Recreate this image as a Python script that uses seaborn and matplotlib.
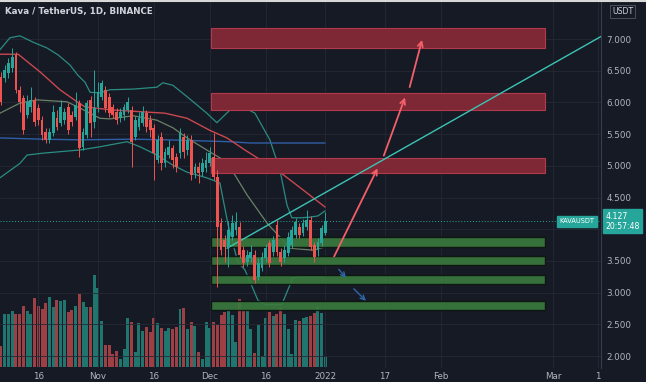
import matplotlib
matplotlib.use("Agg")
import matplotlib.pyplot as plt
from matplotlib.patches import Rectangle
from matplotlib.lines import Line2D
import seaborn as sns

# day numbers counted from Oct 1 2021 (bar 1 = Oct 6, last bar = Jan 1)
days = list(range(5, 93))
opens = [6.40, 6.38, 6.46, 6.54, 6.75, 6.20, 6.07, 5.80, 5.93, 6.04,
         5.91, 5.72, 5.53, 5.41, 5.52, 5.75, 5.68, 5.72, 5.93, 5.80,
         5.77, 5.99, 5.30, 5.49, 6.04, 5.69, 5.93, 6.09, 6.20, 6.09,
         5.93, 5.85, 5.75, 5.80, 5.88, 5.88, 5.45, 5.61, 5.68, 5.83,
         5.72, 5.60, 5.09, 5.45, 5.04, 5.17, 5.28, 5.14, 5.20, 5.45,
         5.25, 5.41, 4.89, 4.98, 4.90, 4.97, 5.04, 5.14, 4.82, 4.10,
         3.83, 3.72, 3.88, 3.99, 4.03, 3.67, 3.48, 3.55, 3.59, 3.25,
         3.39, 3.55, 3.78, 3.64, 4.07, 3.64, 3.55, 3.62, 3.75, 3.91,
         4.03, 3.94, 4.03, 4.15, 3.75, 3.67, 3.78, 3.94]
closes = [6.01, 6.51, 6.62, 6.72, 6.20, 6.01, 5.56, 6.01, 6.04, 5.69,
          5.72, 5.49, 5.41, 5.53, 5.85, 5.61, 5.93, 5.85, 5.56, 5.69,
          5.96, 5.28, 5.53, 5.99, 5.68, 5.91, 6.16, 6.31, 5.91, 5.83,
          5.80, 5.72, 5.85, 5.93, 6.01, 5.38, 5.72, 5.75, 5.85, 5.61,
          5.56, 5.20, 5.41, 5.04, 5.22, 5.30, 5.09, 4.98, 5.52, 5.22,
          5.41, 4.85, 4.98, 4.89, 5.04, 5.09, 5.20, 4.82, 4.03, 3.67,
          3.72, 3.99, 4.10, 4.11, 3.59, 3.47, 3.59, 3.64, 3.20, 3.47,
          3.56, 3.70, 3.47, 3.83, 3.64, 3.48, 3.67, 3.88, 3.99, 4.11,
          3.91, 4.10, 4.15, 3.72, 3.56, 3.80, 4.02, 4.127]
highs = [6.48, 6.59, 6.70, 6.86, 6.79, 6.26, 6.12, 6.12, 6.24, 6.09,
         5.97, 5.79, 5.60, 5.60, 5.96, 5.88, 6.04, 5.91, 5.99, 5.86,
         6.16, 6.04, 5.60, 6.04, 6.10, 6.51, 6.32, 6.35, 6.26, 6.15,
         5.97, 5.91, 5.91, 5.97, 6.09, 5.94, 5.79, 5.85, 5.94, 5.88,
         5.80, 5.66, 5.49, 5.53, 5.28, 5.41, 5.33, 5.20, 5.60, 5.52,
         5.49, 5.49, 5.04, 5.06, 5.12, 5.22, 5.30, 5.52, 4.93, 4.18,
         3.91, 4.11, 4.22, 4.27, 4.11, 3.74, 3.67, 3.75, 3.67, 3.55,
         3.64, 3.77, 3.83, 3.89, 4.15, 3.70, 3.75, 3.96, 4.05, 4.18,
         4.10, 4.16, 4.30, 4.21, 3.80, 3.86, 4.07, 4.27]
lows = [5.96, 6.32, 6.38, 6.48, 6.15, 5.85, 5.50, 5.75, 5.85, 5.63,
        5.64, 5.41, 5.36, 5.36, 5.47, 5.56, 5.63, 5.66, 5.50, 5.63,
        5.72, 5.14, 5.25, 5.44, 5.45, 5.60, 5.85, 6.04, 5.85, 5.77,
        5.75, 5.66, 5.69, 5.72, 5.83, 4.98, 5.41, 5.56, 5.63, 5.53,
        5.45, 4.78, 5.04, 4.93, 4.98, 5.12, 4.97, 4.90, 5.12, 5.12,
        5.17, 4.78, 4.81, 4.73, 4.84, 4.90, 5.00, 4.78, 3.09, 3.59,
        3.48, 3.40, 3.83, 3.91, 3.55, 3.40, 3.42, 3.48, 3.15, 3.20,
        3.34, 3.48, 3.40, 3.58, 3.58, 3.42, 3.48, 3.58, 3.70, 3.86,
        3.86, 3.89, 3.99, 3.67, 3.48, 3.58, 3.74, 3.91]
volumes = [21, 53, 53, 56, 53, 53, 61, 56, 53, 69,
           61, 58, 64, 70, 60, 67, 66, 67, 55, 57,
           61, 73, 65, 60, 60, 92, 79, 46, 22, 22,
           13, 16, 8, 18, 49, 45, 15, 44, 36, 40,
           35, 49, 44, 39, 36, 39, 38, 40, 58, 59,
           38, 45, 41, 15, 8, 45, 39, 45, 42, 52,
           55, 56, 52, 25, 68, 57, 56, 38, 14, 42,
           11, 49, 55, 51, 53, 59, 53, 38, 13, 47,
           46, 49, 50, 51, 54, 60, 54, 10]

# indicator lines (day, price)
ma_red_days = [4.7, 9.6, 15.5, 20.8, 25.4, 27.5, 35.0, 49.0, 54.9, 61.0, 65.6, 70.4, 79.8, 86.0, 91.9]
ma_red = [6.76, 6.76, 6.48, 6.20, 6.01, 5.93, 5.88, 5.83, 5.75, 5.56, 5.44, 5.25, 4.90, 4.62, 4.35]
ma_blue_days = [4.7, 16.3, 26.2, 40.4, 49.5, 66.4, 71.8, 91.9]
ma_blue = [5.44, 5.42, 5.41, 5.42, 5.41, 5.38, 5.36, 5.36]
bb_up_days = [4.7, 7.4, 10.1, 13.6, 17.3, 20.3, 23.5, 25.6, 27.5, 28.9, 31.5, 34.2, 40.4, 46.8, 48.4,
              51.1, 54.9, 60.2, 62.9, 66.4, 69.9, 73.1, 77.1, 79.8, 81.7, 83.0, 85.2, 87.8, 90.0, 91.9]
bb_up = [6.83, 7.02, 7.05, 6.95, 6.86, 6.75, 6.59, 6.43, 6.32, 6.16, 6.15, 6.20, 6.21, 6.24, 6.31,
         6.27, 6.09, 5.83, 5.68, 5.88, 5.93, 5.83, 5.41, 4.93, 4.38, 4.18, 4.18, 4.19, 4.21, 4.29]
bb_mid_days = [4.7, 10.1, 14.7, 22.7, 26.2, 31.5, 34.2, 40.4, 46.8, 51.1, 54.9, 61.0, 65.6, 71.0,
               76.3, 82.5, 88.6, 91.9]
bb_mid = [5.83, 5.99, 6.04, 6.01, 5.91, 5.75, 5.74, 5.79, 5.72, 5.60, 5.44, 5.22, 5.06, 4.54,
          4.10, 3.70, 3.67, 3.72]
bb_low_days = [4.7, 10.1, 12.0, 16.3, 26.2, 31.5, 34.2, 38.8, 42.3, 46.8, 51.1, 54.9, 60.2, 63.7,
               65.9, 68.5, 70.4, 73.9, 75.8, 80.3, 81.9, 83.3, 85.2, 91.9]
bb_low = [4.81, 5.04, 5.17, 5.20, 5.25, 5.30, 5.33, 5.38, 5.30, 5.17, 5.01, 4.90, 4.81, 4.73,
          4.07, 3.48, 3.36, 2.88, 2.81, 2.81, 3.04, 3.23, 3.25, 3.25]

# drawings
zone_start, zone_end = 61.3, 150.8
red_zones = [(6.86, 7.17), (5.88, 6.15), (4.89, 5.12)]
green_zones = [(3.72, 3.88), (3.43, 3.57), (3.13, 3.28), (2.73, 2.86)]
trend_days = [65.6, 166.5]
trend_prices = [3.70, 7.06]
red_arrows = [((94.0, 3.53), (106.3, 5.00)), ((107.4, 5.12), (113.6, 6.12)), ((114.4, 6.20), (118.1, 7.03))]
blue_arrows = [((95.1, 3.40), (98.0, 3.20)), ((99.1, 3.09), (103.4, 2.84))]
last_price = 4.127

price_ticks = [2.0, 2.5, 3.0, 3.5, 4.0, 4.5, 5.0, 5.5, 6.0, 6.5, 7.0]
date_ticks = [15, 31, 46, 61, 76, 92, 108, 123, 153, 165]
date_labels = ['16', 'Nov', '16', 'Dec', '16', '2022', '17', 'Feb', 'Mar', '1']

bg = '#161a25'
grid = '#252936'
txt = '#b2b5be'
up_col = '#26a69a'
down_col = '#ef5350'

sns.set_theme(style='dark', rc={'axes.facecolor': bg, 'figure.facecolor': bg})
plt.rcParams['font.family'] = ['DejaVu Sans']

fig = plt.figure(figsize=(6.46, 3.82), dpi=100)
ax2 = fig.add_axes([0, 14 / 382, 601 / 646, 366 / 382])
ax = fig.add_axes([0, 14 / 382, 601 / 646, 366 / 382], sharex=ax2)
ax.patch.set_visible(False)
ax2.set_facecolor(bg)

# volume
vol_cols = ['#22877d' if c >= o else '#b4474c' for o, c in zip(opens, closes)]
ax2.bar(days, volumes, width=0.8, color=vol_cols, alpha=0.85, linewidth=0)
ax2.set_ylim(-1.5, 364.5)
ax2.set_yticks([])
for s in ax2.spines.values():
    s.set_visible(False)

# grid
for p in price_ticks:
    ax.axhline(p, color=grid, lw=0.6, zorder=0)
for d in date_ticks:
    ax.axvline(d, color=grid, lw=0.6, zorder=0)

# indicators
sns.lineplot(x=bb_up_days, y=bb_up, ax=ax, color='#2a8c82', lw=0.9)
sns.lineplot(x=bb_low_days, y=bb_low, ax=ax, color='#2a8c82', lw=0.9)
sns.lineplot(x=bb_mid_days, y=bb_mid, ax=ax, color='#6b8266', lw=0.9)
sns.lineplot(x=ma_blue_days, y=ma_blue, ax=ax, color='#2f5ea6', lw=1.0)
sns.lineplot(x=ma_red_days, y=ma_red, ax=ax, color='#c9484f', lw=1.0)

# zones
for lo, hi in red_zones:
    ax.add_patch(Rectangle((zone_start, lo), zone_end - zone_start, hi - lo,
                           facecolor='#7e2735', edgecolor='#b23a4c', lw=0.8, zorder=2))
for lo, hi in green_zones:
    ax.add_patch(Rectangle((zone_start, lo), zone_end - zone_start, hi - lo,
                           facecolor='#3a7a3e', edgecolor='#0d120f', lw=1.0, alpha=0.9, zorder=2))

# candles
cols = [up_col if c >= o else down_col for o, c in zip(opens, closes)]
bottoms = [min(o, c) for o, c in zip(opens, closes)]
heights = [max(abs(c - o), 0.015) for o, c in zip(opens, closes)]
ax.vlines(days, lows, highs, colors=cols, lw=0.7, zorder=3)
ax.bar(days, heights, bottom=bottoms, width=0.75, color=cols, linewidth=0, zorder=3)

# trend line and arrows
sns.lineplot(x=trend_days, y=trend_prices, ax=ax, color='#3cc4b4', lw=1.0)
for start, end in red_arrows:
    ax.annotate('', xy=end, xytext=start, zorder=4,
                arrowprops=dict(arrowstyle='->', color='#f2606a', lw=1.3, mutation_scale=9))
for start, end in blue_arrows:
    ax.annotate('', xy=end, xytext=start, zorder=4,
                arrowprops=dict(arrowstyle='->', color='#2d66aa', lw=1.0, mutation_scale=8))

# last price
ax.axhline(last_price, color=up_col, ls=(0, (1, 2)), lw=0.7, zorder=1)
ax.text(159.5, last_price, 'KAVAUSDT', color='white', fontsize=4.8, ha='center', va='center',
        bbox=dict(boxstyle='square,pad=0.35', fc=up_col, ec=up_col), zorder=6)
ax.annotate(f'{last_price:.3f}\n20:57:48', xy=(1.0, last_price), xycoords=('axes fraction', 'data'),
            xytext=(3, 0), textcoords='offset points', color='white', fontsize=5.6,
            ha='left', va='center', linespacing=1.1, annotation_clip=False,
            bbox=dict(boxstyle='square,pad=0.3', fc=up_col, ec=up_col), zorder=6)

ax.set_xlim(4.73, 165.9)
ax.set_ylim(1.811, 7.584)
ax.yaxis.tick_right()
ax.set_yticks(price_ticks)
# the 4.000 label sits under the last-price tag
ax.set_yticklabels(['' if p == 4.0 else f'{p:.3f}' for p in price_ticks])
ax.set_xticks(date_ticks)
ax.set_xticklabels(date_labels)
ax.tick_params(axis='y', length=0, pad=4, labelsize=6.3, labelcolor=txt)
ax.tick_params(axis='x', length=0, pad=3, labelsize=6.3, labelcolor=txt)
ax2.tick_params(axis='x', length=0, labelbottom=False)
ax.set_xlabel('')
ax.set_ylabel('')
ax.grid(False)
for name, s in ax.spines.items():
    s.set_visible(name == 'right')
ax.spines['right'].set_color('#3a3e4a')
ax.spines['right'].set_linewidth(0.8)

ax.text(0.009, 0.975, 'Kava / TetherUS, 1D, BINANCE', transform=ax.transAxes, color='#d1d4dc',
        fontsize=6.3, fontweight='semibold', ha='left', va='center')
fig.text(0.964, 0.971, 'USDT', color='#d1d4dc', fontsize=5.6, ha='center', va='center',
         bbox=dict(boxstyle='square,pad=0.25', fc=bg, ec='#4a4e5a', lw=0.7))
fig.add_artist(Line2D([0, 1], [0.997, 0.997], color='#d8d8d8', lw=1.5))

fig.savefig('out.png', dpi=100, facecolor=bg)
